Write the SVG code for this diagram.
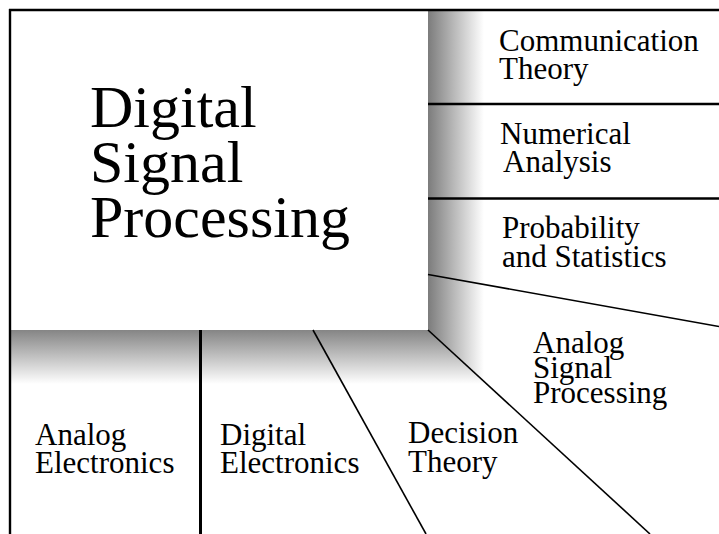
<svg xmlns="http://www.w3.org/2000/svg" width="719" height="534" viewBox="0 0 719 534">
<style>
  .t { font-family: "Liberation Serif", "Times New Roman", serif; fill: #000; }
  .s { font-size: 31px; }
  .b { font-size: 60px; }
  .ln { stroke: #000; fill: none; }
  .thin { stroke-width: 1.6; }
  .med { stroke-width: 2.4; }
  .thick { stroke-width: 3; }
</style>
<defs>
  <linearGradient id="gr" gradientUnits="userSpaceOnUse" x1="428" y1="0" x2="484" y2="0">
    <stop offset="0" stop-color="#7c7c7c"/>
    <stop offset="1" stop-color="#ffffff"/>
  </linearGradient>
  <linearGradient id="gb" gradientUnits="userSpaceOnUse" x1="0" y1="330" x2="0" y2="384">
    <stop offset="0" stop-color="#858585"/>
    <stop offset="1" stop-color="#ffffff"/>
  </linearGradient>
</defs>
<rect x="0" y="0" width="719" height="534" fill="#fff"/>
<g id="shadows">
  <polygon points="428,10 484,10 484,384 428,330" fill="url(#gr)"/>
  <polygon points="10,330 428,330 485,384 10,384" fill="url(#gb)"/>
</g>
<g id="connectors">
  <line class="ln med" x1="9" y1="10" x2="719" y2="10"/>
  <line class="ln med" x1="10" y1="9" x2="10" y2="534"/>
  <line class="ln med" x1="428" y1="104" x2="719" y2="104"/>
  <line class="ln med" x1="428" y1="198.5" x2="719" y2="198.5"/>
  <line class="ln thin" x1="428" y1="274.5" x2="719" y2="326.5"/>
  <line class="ln thick" x1="200.5" y1="330" x2="200.5" y2="534"/>
  <line class="ln thin" x1="313" y1="330" x2="426" y2="534"/>
  <line class="ln thin" x1="428" y1="330" x2="650" y2="534"/>
</g>
<g id="dsp">
  <text class="t b" x="90"><tspan x="90" y="127">Digital</tspan><tspan x="90" y="182">Signal</tspan><tspan x="90" y="237">Processing</tspan></text>
</g>
<g id="communication-theory">
  <text class="t s"><tspan x="499" y="51">Communication</tspan><tspan x="499" y="79">Theory</tspan></text>
</g>
<g id="numerical-analysis">
  <text class="t s"><tspan x="500" y="144">Numerical</tspan><tspan x="503" y="172">Analysis</tspan></text>
</g>
<g id="probability-statistics">
  <text class="t s"><tspan x="502" y="238">Probability</tspan><tspan x="502" y="267">and Statistics</tspan></text>
</g>
<g id="analog-signal-processing">
  <text class="t s"><tspan x="533" y="353">Analog</tspan><tspan x="533" y="378">Signal</tspan><tspan x="533" y="403">Processing</tspan></text>
</g>
<g id="analog-electronics">
  <text class="t s"><tspan x="35" y="445">Analog</tspan><tspan x="35" y="473">Electronics</tspan></text>
</g>
<g id="digital-electronics">
  <text class="t s"><tspan x="220" y="445">Digital</tspan><tspan x="220" y="473">Electronics</tspan></text>
</g>
<g id="decision-theory">
  <text class="t s"><tspan x="408" y="443">Decision</tspan><tspan x="408" y="472">Theory</tspan></text>
</g>
</svg>
